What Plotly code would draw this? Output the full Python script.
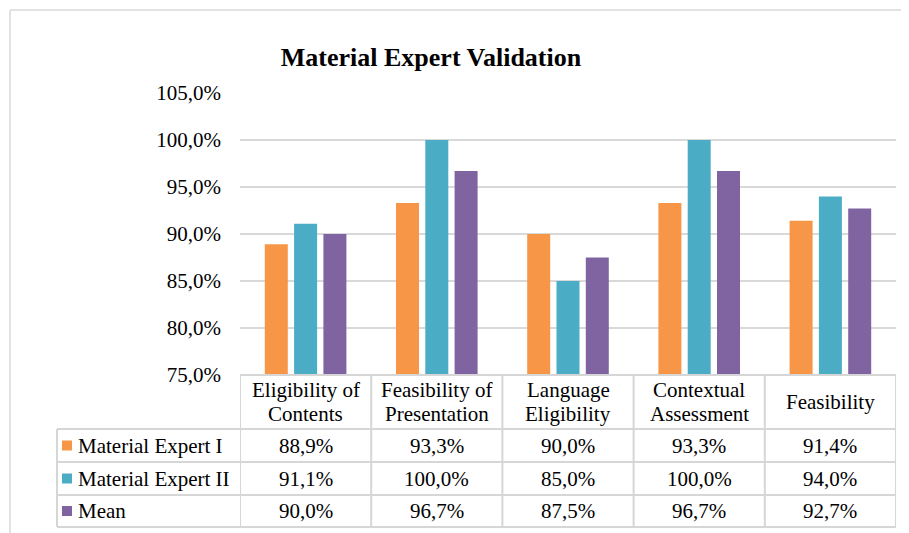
import plotly.graph_objects as go

categories = ["Eligibility of<br>Contents", "Feasibility of<br>Presentation", "Language<br>Eligibility",
              "Contextual<br>Assessment", "Feasibility"]
series_names = ["Material Expert I", "Material Expert II", "Mean"]
expert1 = [88.9, 93.3, 90.0, 93.3, 91.4]
expert2 = [91.1, 100.0, 85.0, 100.0, 94.0]
mean_vals = [90.0, 96.7, 87.5, 96.7, 92.7]
colors = ["#F79646", "#4BACC6", "#8064A2"]
title_text = "Material Expert Validation"

OFF = 8  # page body margin
WIN_W, WIN_H = 909, 533
W, H = WIN_W - OFF, WIN_H - OFF
PL, PR, PT, PB = 240, 896, 93, 375  # plot area pixel bounds (window coords)
FONT = "Liberation Serif, Times New Roman, serif"
GRID = "#D9D9D9"
TBL = "#D6D6D6"
FS = 21


def px_x(px):
    return (px - PL) / (PR - PL)


def px_y(py):
    return (PB - py) / (PB - PT)


xs = list(range(len(categories)))
series = [expert1, expert2, mean_vals]

fig = go.Figure()
for name, vals, col in zip(series_names, series, colors):
    fig.add_trace(go.Bar(x=xs, y=vals, name=name, marker=dict(color=col, line=dict(width=0)),
                         showlegend=False, hoverinfo="skip"))

shapes = []
annotations = []

# outer chart border (top and left edges visible)
shapes.append(dict(type="line", xref="paper", yref="paper", x0=px_x(10), x1=px_x(WIN_W + 5),
                   y0=px_y(10), y1=px_y(10), line=dict(color=GRID, width=1.5)))
shapes.append(dict(type="line", xref="paper", yref="paper", x0=px_x(10), x1=px_x(10),
                   y0=px_y(10), y1=px_y(WIN_H + 5), line=dict(color=GRID, width=1.5)))

# data table geometry
row_tops = [375, 429, 462, 495, 527]
label_left = 57
n = len(categories)

shapes.append(dict(type="line", xref="x", yref="paper", x0=-0.5, x1=n - 0.5,
                   y0=px_y(row_tops[0]), y1=px_y(row_tops[0]), line=dict(color=TBL, width=2)))
for yy in row_tops[1:]:
    shapes.append(dict(type="line", xref="paper", yref="paper", x0=px_x(label_left), x1=1,
                       y0=px_y(yy), y1=px_y(yy), line=dict(color=TBL, width=2)))
for i in range(n + 1):
    shapes.append(dict(type="line", xref="x", yref="paper", x0=i - 0.5, x1=i - 0.5,
                       y0=px_y(row_tops[0]), y1=px_y(row_tops[-1]), line=dict(color=TBL, width=2)))
shapes.append(dict(type="line", xref="paper", yref="paper", x0=px_x(label_left), x1=px_x(label_left),
                   y0=px_y(row_tops[1]), y1=px_y(row_tops[-1]), line=dict(color=TBL, width=2)))

# header text (each line placed separately for tighter line spacing)
hmid = (row_tops[0] + row_tops[1]) / 2
for i, c in enumerate(categories):
    lines = c.split("<br>")
    k = len(lines)
    for j, ln in enumerate(lines):
        yy = hmid + (j - (k - 1) / 2) * 23.5
        annotations.append(dict(x=i, xref="x", y=px_y(yy), yref="paper",
                                text=ln, showarrow=False, xanchor="center", yanchor="middle",
                                font=dict(family=FONT, size=FS, color="#000000")))

for r, (name, vals, col) in enumerate(zip(series_names, series, colors)):
    top, bot = row_tops[r + 1], row_tops[r + 2]
    mid = (top + bot) / 2
    shapes.append(dict(type="rect", xref="paper", yref="paper", x0=px_x(62), x1=px_x(72),
                       y0=px_y(mid - 5), y1=px_y(mid + 5), fillcolor=col, line=dict(width=0)))
    annotations.append(dict(x=px_x(76), xref="paper", y=px_y(mid), yref="paper", text=name,
                            showarrow=False, xanchor="left", yanchor="middle",
                            font=dict(family=FONT, size=FS, color="#000000")))
    for i, v in enumerate(vals):
        annotations.append(dict(x=i, xref="x", y=px_y(mid), yref="paper",
                                text=f"{v:.1f}".replace(".", ",") + "%", showarrow=False,
                                xanchor="center", yanchor="middle",
                                font=dict(family=FONT, size=FS, color="#000000")))

fig.update_layout(
    width=W, height=H,
    margin=dict(l=PL - OFF, r=WIN_W - PR, t=PT - OFF, b=WIN_H - PB, pad=0),
    paper_bgcolor="white", plot_bgcolor="white",
    barmode="group", bargap=0.33, bargroupgap=0.215,
    separators=",.",
    title=dict(text="<b>" + title_text + "</b>", x=(431 - OFF) / W, xref="container", xanchor="center",
               y=1 - (57 - OFF) / H, yref="container", yanchor="middle",
               font=dict(family=FONT, size=26, color="#000000")),
    font=dict(family=FONT, size=FS, color="#000000"),
    xaxis=dict(range=[-0.5, n - 0.5], showticklabels=False, showgrid=False, zeroline=False,
               showline=False, fixedrange=True),
    yaxis=dict(range=[75, 105], dtick=5, tick0=75, tickformat=".1f", ticksuffix="%",
               showgrid=True, gridcolor=GRID, gridwidth=2, zeroline=False, showline=False,
               ticks="", ticklabelstandoff=18,
               tickfont=dict(family=FONT, size=FS, color="#000000")),
    shapes=shapes, annotations=annotations,
)

fig.write_html("out.html")
